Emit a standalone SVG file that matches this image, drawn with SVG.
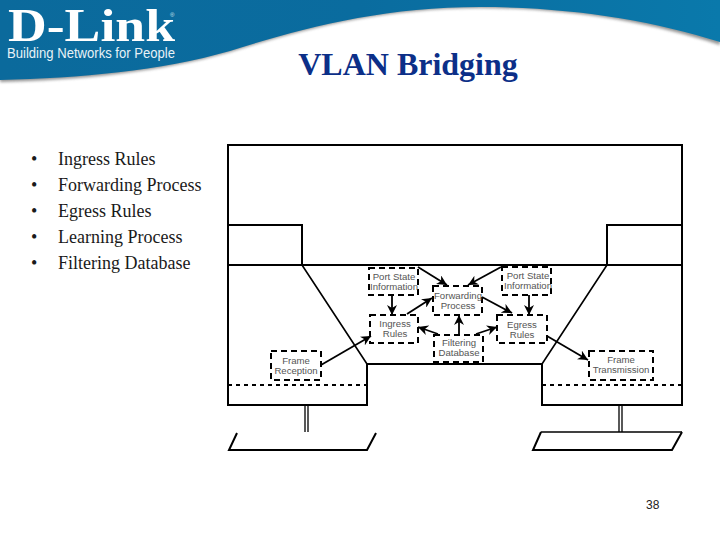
<svg xmlns="http://www.w3.org/2000/svg" width="720" height="540" viewBox="0 0 720 540">
<style>
.b{font-family:"Liberation Serif","Times New Roman",serif;font-size:18px;fill:#1a1a1a}
.l{font-family:"Liberation Sans",Arial,sans-serif;font-size:9.6px;fill:#555;text-anchor:middle}
.bx{fill:none;stroke:#000;stroke-width:2;stroke-dasharray:6 4}
.s{fill:none;stroke:#000;stroke-width:2}
.t{fill:none;stroke:#000;stroke-width:1.3}
.a{fill:none;stroke:#000;stroke-width:1.8;marker-end:url(#ah)}
</style>
<defs>
<linearGradient id="hg" x1="0" y1="0" x2="1" y2="0">
<stop offset="0" stop-color="#0b6a9c"/><stop offset="0.5" stop-color="#0a6c9f"/><stop offset="1" stop-color="#0a79ab"/>
</linearGradient>
<filter id="sh" x="-5%" y="-20%" width="110%" height="140%"><feGaussianBlur stdDeviation="1.6"/></filter>
<marker id="ah" markerWidth="11" markerHeight="10" refX="10" refY="5" orient="auto" markerUnits="userSpaceOnUse">
<path d="M0 0L10 5L0 10L3 5Z" fill="#000"/>
</marker>
</defs>
<rect width="720" height="540" fill="#fff"/>
<g id="header">
<path d="M0 0H720V45C650 22 570 8 480 8C380 8 300 30 230 52C160 72 80 80 0 82Z" fill="#666" opacity=".7" filter="url(#sh)"/>
<path d="M0 0H720V42C650 20 570 7 480 7C380 7 300 29 230 51C160 71 80 78 0 80Z" fill="url(#hg)"/>
<text x="8" y="41" font-family="Liberation Serif,serif" font-weight="bold" font-size="46" fill="#fff" textLength="167" lengthAdjust="spacingAndGlyphs">D-Link</text>
<text x="170" y="17" font-family="Liberation Sans,sans-serif" font-size="6" fill="#d5e6f0">®</text>
<text x="7" y="58" font-family="Liberation Sans,sans-serif" font-size="15" fill="#e8f2f7" textLength="168" lengthAdjust="spacingAndGlyphs">Building Networks for People</text>
</g>
<text id="title" x="408" y="75" text-anchor="middle" font-family="Liberation Serif,serif" font-weight="bold" font-size="32" fill="#0c2f88">VLAN Bridging</text>
<g id="bullets">
<text class="b" x="31" y="165">•</text><text class="b" x="58" y="165">Ingress Rules</text>
<text class="b" x="31" y="191">•</text><text class="b" x="58" y="191">Forwarding Process</text>
<text class="b" x="31" y="217">•</text><text class="b" x="58" y="217">Egress Rules</text>
<text class="b" x="31" y="243">•</text><text class="b" x="58" y="243">Learning Process</text>
<text class="b" x="31" y="269">•</text><text class="b" x="58" y="269">Filtering Database</text>
</g>
<g id="frame">
<path class="s" d="M302 265V225H228V145H682V405H542V364H367V405H228V145"/>
<path class="s" d="M228 265H682M607 265V225H682"/>
<path d="M302 265L367 364M607 265L542 364" fill="none" stroke="#000" stroke-width="1.6"/>
<path d="M228 385H367M542 385H682" fill="none" stroke="#000" stroke-width="2" stroke-dasharray="4 4"/>
<path class="t" d="M305 405V432M308 405V432M619 405V432M622 405V432"/>
<path class="s" d="M237 433L229 450H367L376 433"/>
<path class="t" d="M541 432H682"/>
<path class="s" d="M541 432L533 450H672L682 432"/>
</g>
<g id="connectors">
<path class="a" d="M418 267L447 285"/>
<path class="a" d="M392 295V315"/>
<path class="a" d="M407 314L432 298"/>
<path class="a" d="M321 365L371 336"/>
<path class="a" d="M438 334L418 327"/>
<path class="a" d="M459 335V315"/>
<path class="a" d="M501 267L468 285"/>
<path class="a" d="M482 297L512 313"/>
<path class="a" d="M529 295V315"/>
<path class="a" d="M476 334L497 327"/>
<path class="a" d="M547 336L588 360"/>
</g>
<g id="port-state-left"><rect class="bx" x="369" y="268" width="49" height="27"/><text class="l" x="394" y="280">Port State</text><text class="l" x="394" y="290">Information</text></g>
<g id="forwarding"><rect class="bx" x="433" y="286" width="49" height="29"/><text class="l" x="458" y="299">Forwarding</text><text class="l" x="458" y="309">Process</text></g>
<g id="port-state-right"><rect class="bx" x="502" y="267" width="49" height="28"/><text class="l" x="528" y="279">Port State</text><text class="l" x="528" y="289">Information</text></g>
<g id="ingress"><rect class="bx" x="370" y="315" width="48" height="28"/><text class="l" x="395" y="327">Ingress</text><text class="l" x="395" y="337">Rules</text></g>
<g id="egress"><rect class="bx" x="497" y="315" width="50" height="28"/><text class="l" x="522" y="328">Egress</text><text class="l" x="522" y="338">Rules</text></g>
<g id="filtering"><rect class="bx" x="434" y="335" width="49" height="27"/><text class="l" x="459" y="346">Filtering</text><text class="l" x="459" y="356">Database</text></g>
<g id="frame-reception"><rect class="bx" x="271" y="351" width="50" height="29"/><text class="l" x="296" y="364">Frame</text><text class="l" x="296" y="374">Reception</text></g>
<g id="frame-transmission"><rect class="bx" x="589" y="351" width="64" height="29"/><text class="l" x="621" y="363">Frame</text><text class="l" x="621" y="373">Transmission</text></g>
<text id="page" x="646" y="509" font-family="Liberation Sans,sans-serif" font-size="12" fill="#222">38</text>
</svg>
